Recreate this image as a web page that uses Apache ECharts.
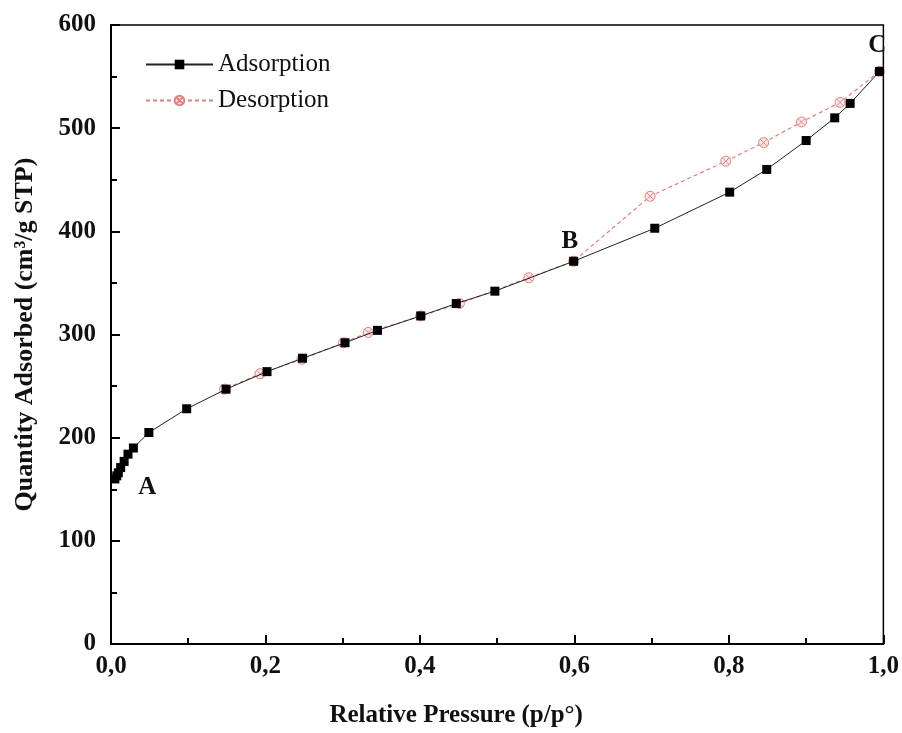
<!DOCTYPE html>
<html>
<head>
<meta charset="utf-8">
<script src="https://cdn.jsdelivr.net/npm/echarts@6/dist/echarts.min.js"></script>
<style>html,body{margin:0;padding:0;background:#fff}#c{width:902px;height:733px}</style>
</head>
<body>
<div id="c"></div>
<script>
const adsX = [0.005, 0.0075, 0.0095, 0.0125, 0.017, 0.022, 0.029, 0.049, 0.098, 0.149, 0.202, 0.248, 0.303, 0.345, 0.401, 0.447, 0.497, 0.599, 0.704, 0.801, 0.849, 0.900, 0.937, 0.957, 0.995];
const adsY = [160, 163, 166, 171, 177, 184, 190, 205, 228, 247, 264, 277, 292, 304, 318, 330, 342, 371, 403, 438, 460, 488, 510, 524, 555];
const desX = [0.995, 0.944, 0.894, 0.845, 0.796, 0.698, 0.599, 0.541, 0.451, 0.401, 0.333, 0.301, 0.247, 0.193, 0.147];
const desY = [555, 525, 506, 486, 468, 434, 371, 355, 330, 318, 302, 292, 276, 262, 247];
const seriesNames = ['Adsorption', 'Desorption'];
const pointLabels = [
  {name: 'A', coord: [0.047, 152]},
  {name: 'B', coord: [0.594, 390]},
  {name: 'C', coord: [0.992, 580]}
];
const xTitle = 'Relative Pressure (p/p°)';
const yTitle = 'Quantity Adsorbed (cm³/g STP)';

const serif = '"Liberation Serif", "Times New Roman", serif';
const chart = echarts.init(document.getElementById('c'), null, {renderer: 'canvas'});
const crossCircle = 'path://M0,-10 A10,10 0 1,1 0,10 A10,10 0 1,1 0,-10 Z M-7,-7 L7,7 M7,-7 L-7,7';

chart.setOption({
  animation: false,
  backgroundColor: '#fff',
  grid: {left: 111, right: 18, top: 25, bottom: 84, show: true, borderColor: '#000', borderWidth: 1.5, backgroundColor: 'transparent'},
  legend: {
    data: seriesNames,
    orient: 'vertical',
    left: 140,
    top: 47,
    itemWidth: 67,
    itemHeight: 12,
    itemGap: 11,
    textStyle: {fontFamily: serif, fontSize: 25, color: '#111'}
  },
  xAxis: {
    type: 'value', min: 0, max: 1, interval: 0.2,
    name: xTitle, nameLocation: 'middle', nameGap: 59,
    nameTextStyle: {fontFamily: serif, fontSize: 25, fontWeight: 'bold', color: '#111', padding: [0, 82, 0, 0]},
    axisLine: {show: true, lineStyle: {color: '#000', width: 2}},
    axisTick: {show: true, inside: true, length: 9, lineStyle: {color: '#000', width: 2}},
    minorTick: {show: true, splitNumber: 2, length: 6, lineStyle: {color: '#000', width: 2}},
    splitLine: {show: false},
    axisLabel: {fontFamily: serif, fontSize: 25, fontWeight: 'bold', color: '#111', margin: 10,
      formatter: v => v.toFixed(1).replace('.', ',')}
  },
  yAxis: {
    type: 'value', min: 0, max: 600, interval: 100,
    name: yTitle, nameLocation: 'middle', nameGap: 73, nameRotate: 90,
    nameTextStyle: {fontFamily: serif, fontSize: 26, fontWeight: 'bold', color: '#111'},
    axisLine: {show: true, lineStyle: {color: '#000', width: 2}},
    axisTick: {show: true, inside: true, length: 9, lineStyle: {color: '#000', width: 2}},
    minorTick: {show: true, splitNumber: 2, length: 6, lineStyle: {color: '#000', width: 2}},
    splitLine: {show: false},
    axisLabel: {fontFamily: serif, fontSize: 25, fontWeight: 'bold', color: '#111', margin: 15}
  },
  series: [
    {
      name: seriesNames[1], type: 'line',
      data: desX.map((x, i) => [x, desY[i]]),
      symbol: crossCircle, symbolSize: 10,
      itemStyle: {color: '#fdeaea', borderColor: '#e47f7f', borderWidth: 1},
      lineStyle: {color: '#e47f7f', width: 1.2, type: [4, 3]},
      z: 2
    },
    {
      name: seriesNames[0], type: 'line',
      data: adsX.map((x, i) => [x, adsY[i]]),
      symbol: 'rect', symbolSize: 9,
      itemStyle: {color: '#000'},
      lineStyle: {color: '#222', width: 1},
      z: 3,
      markPoint: {
        symbol: 'circle', symbolSize: 0,
        label: {show: true, formatter: '{b}', fontFamily: serif, fontSize: 25, fontWeight: 'bold', color: '#111'},
        data: pointLabels
      }
    }
  ]
});
</script>
</body>
</html>
